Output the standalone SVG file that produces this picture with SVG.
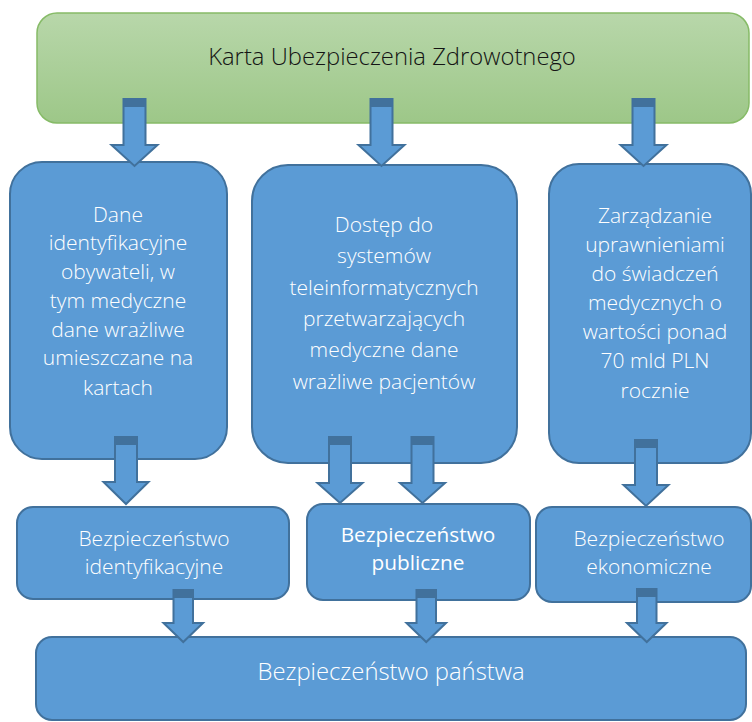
<svg xmlns="http://www.w3.org/2000/svg" width="752" height="722" viewBox="0 0 752 722">
<defs>
<linearGradient id="green" x1="0" y1="0" x2="0" y2="1">
<stop offset="0" stop-color="#b8d7aa"/>
<stop offset="1" stop-color="#9dc788"/>
</linearGradient>
</defs>
<style>
.box{fill:#5b9bd5;stroke:#41719c;stroke-width:2}
.banner{fill:url(#green);stroke:#86bb67;stroke-width:1.5}
.t{font-family:"Open Sans","Liberation Sans",sans-serif;font-weight:300;font-size:21px;fill:#ffffff;text-anchor:middle}
.tb{font-weight:400;font-size:20.8px}
.title{font-family:"Open Sans","Liberation Sans",sans-serif;font-weight:300;font-size:23.8px;fill:#141414;text-anchor:middle}
.arr{fill:#5b9bd5;stroke:#41719c;stroke-width:2;stroke-linejoin:miter}
.cap{fill:#41719c}
</style>
<rect width="752" height="722" fill="#ffffff"/>
<g id="karta">
<rect class="banner" x="37" y="13" width="712" height="110" rx="20"/>
<text class="title" x="392" y="65">Karta Ubezpieczenia Zdrowotnego</text>
</g>
<g id="dane">
<rect class="box" x="10" y="162" width="217" height="297" rx="32"/>
<text class="t" x="118" y="222">Dane</text>
<text class="t" x="118" y="250">identyfikacyjne</text>
<text class="t" x="118" y="279">obywateli, w</text>
<text class="t" x="118" y="308">tym medyczne</text>
<text class="t" x="118" y="337">dane wrażliwe</text>
<text class="t" x="118" y="365">umieszczane na</text>
<text class="t" x="118" y="395">kartach</text>
</g>
<g id="dostep">
<rect class="box" x="252" y="165" width="265" height="298" rx="36"/>
<text class="t" x="384" y="232">Dostęp do</text>
<text class="t" x="384" y="263">systemów</text>
<text class="t" x="384" y="295">teleinformatycznych</text>
<text class="t" x="384" y="326">przetwarzających</text>
<text class="t" x="384" y="357">medyczne dane</text>
<text class="t" x="384" y="389">wrażliwe pacjentów</text>
</g>
<g id="zarzadzanie">
<rect class="box" x="549" y="164" width="202" height="299" rx="30"/>
<text class="t" x="655" y="223">Zarządzanie</text>
<text class="t" x="655" y="252">uprawnieniami</text>
<text class="t" x="655" y="281">do świadczeń</text>
<text class="t" x="655" y="310">medycznych o</text>
<text class="t" x="655" y="339">wartości ponad</text>
<text class="t" x="655" y="368">70 mld PLN</text>
<text class="t" x="655" y="398">rocznie</text>
</g>
<g id="identyfikacyjne">
<rect class="box" x="17" y="507" width="272" height="92" rx="16"/>
<text class="t" x="154" y="546">Bezpieczeństwo</text>
<text class="t" x="154" y="574">identyfikacyjne</text>
</g>
<g id="publiczne">
<rect class="box" x="307" y="504" width="223" height="96" rx="16"/>
<text class="t tb" x="418" y="542">Bezpieczeństwo</text>
<text class="t tb" x="418" y="570">publiczne</text>
</g>
<g id="ekonomiczne">
<rect class="box" x="536" y="507" width="215" height="95" rx="16"/>
<text class="t" x="649" y="546">Bezpieczeństwo</text>
<text class="t" x="649" y="574">ekonomiczne</text>
</g>
<g id="panstwa">
<rect class="box" x="36" y="637" width="710" height="83" rx="16"/>
<text class="t" x="391" y="680" style="font-size:23.8px">Bezpieczeństwo państwa</text>
</g>
<g id="connectors">
<path class="arr" d="M123.5,99 H145.5 V145 H157.5 L134.5,166 L111.5,145 H123.5 Z"/>
<rect class="cap" x="123.5" y="99" width="22" height="8"/>
<path class="arr" d="M370.5,99 H392.5 V145 H404.5 L381.5,166 L358.5,145 H370.5 Z"/>
<rect class="cap" x="370.5" y="99" width="22" height="8"/>
<path class="arr" d="M632.5,99 H654.5 V145 H666.5 L643.5,166 L620.5,145 H632.5 Z"/>
<rect class="cap" x="632.5" y="99" width="22" height="8"/>

<path class="arr" d="M115,437 H137 V482 H148.5 L126,504 L103.5,482 H115 Z"/>
<rect class="cap" x="115" y="437" width="22" height="8"/>
<path class="arr" d="M329,437 H351 V483 H362.5 L340,503 L317.5,483 H329 Z"/>
<rect class="cap" x="329" y="437" width="22" height="8"/>
<path class="arr" d="M411.5,437 H433.5 V483 H445 L422.5,503 L400,483 H411.5 Z"/>
<rect class="cap" x="411.5" y="437" width="22" height="8"/>
<path class="arr" d="M635,440 H657 V485 H668.5 L646,506 L623.5,485 H635 Z"/>
<rect class="cap" x="635" y="440" width="22" height="8"/>

<path class="arr" d="M173.5,590 H193 V623 H203 L183.25,642 L163.5,623 H173.5 Z"/>
<rect class="cap" x="173.5" y="590" width="19.5" height="8"/>
<path class="arr" d="M416.5,590 H436 V623 H446 L426.25,642 L406.5,623 H416.5 Z"/>
<rect class="cap" x="416.5" y="590" width="19.5" height="8"/>
<path class="arr" d="M637,589 H656.5 V623 H666.5 L646.75,642 L627,623 H637 Z"/>
<rect class="cap" x="637" y="589" width="19.5" height="8"/>
</g>
</svg>
